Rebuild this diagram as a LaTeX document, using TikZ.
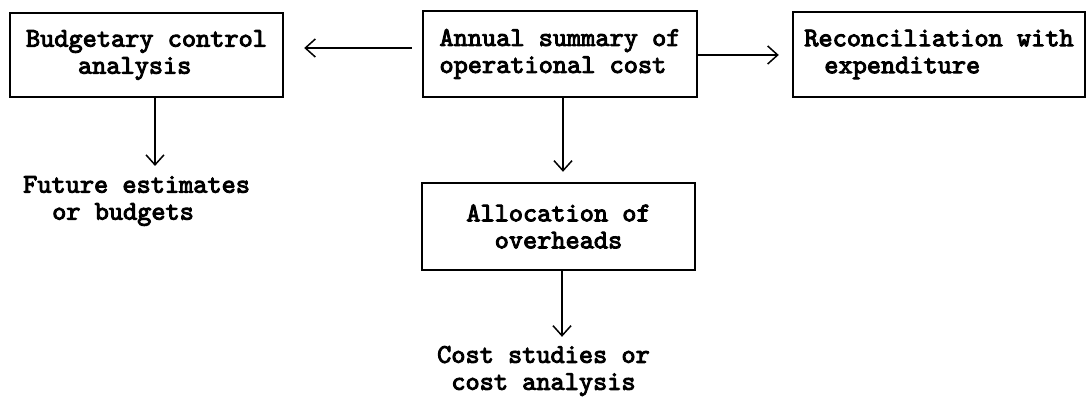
\documentclass[tikz,border=0pt]{standalone}
\usepackage{fontspec}
\newfontfamily\twfont{lmmono10-regular.otf}[FakeBold=3.5]
\usetikzlibrary{arrows.meta,calc}
\tikzset{
  boxnode/.style={draw=black, line width=2.4pt, rectangle, inner sep=0pt,
    font=\twfont\fontsize{27}{27}\selectfont},
  plaintext/.style={inner sep=0pt, font=\twfont\fontsize{27}{27}\selectfont},
  arr/.style={line width=1.5pt, -{Straight Barb[length=10pt,width=18pt,line width=1.5pt]}}
}
\begin{document}
\begin{tikzpicture}[x=1pt,y=-1pt]
\useasboundingbox (0,0) rectangle (1088,398);
\node[boxnode, minimum width=273pt, minimum height=84pt, align=left] (b1) at (146.5,55)
  {Budgetary control\\\hspace*{52pt}analysis};
\node[boxnode, minimum width=274pt, minimum height=86pt, align=left] (b2) at (560,54)
  {Annual summary of\\operational cost};
\node[boxnode, minimum width=292pt, minimum height=85pt, align=left] (b3) at (939,54.5)
  {Reconciliation with\\\hspace*{20pt}expenditure};
\node[boxnode, minimum width=273pt, minimum height=87pt, align=center] (b4) at (558.5,226.5)
  {Allocation of\\overheads};
\node[plaintext, align=left, anchor=west] (fut) at (23,201)
  {Future estimates\\\hspace*{29pt}or budgets};
\node[plaintext, align=center] (cst) at (543.5,371)
  {Cost studies or\\cost analysis};
\draw[arr, shorten <=10pt, shorten >=20pt] ([yshift=6pt]b2.west) -- ([yshift=6pt]b2.west -| b1.east);
\draw[arr, shorten >=13pt] ([yshift=-1pt]b2.east) -- ([yshift=-1pt]b2.east -| b3.west);
\draw[arr, shorten >=10pt] ([xshift=8.5pt]b1.south) -- ([xshift=8.5pt]b1.south |- fut.north);
\draw[arr, shorten >=10pt] ([xshift=3pt]b2.south) -- ([xshift=3pt]b2.south |- b4.north);
\draw[arr, shorten >=9pt] ([xshift=3.5pt]b4.south) -- ([xshift=3.5pt]b4.south |- cst.north);
\end{tikzpicture}
\end{document}
